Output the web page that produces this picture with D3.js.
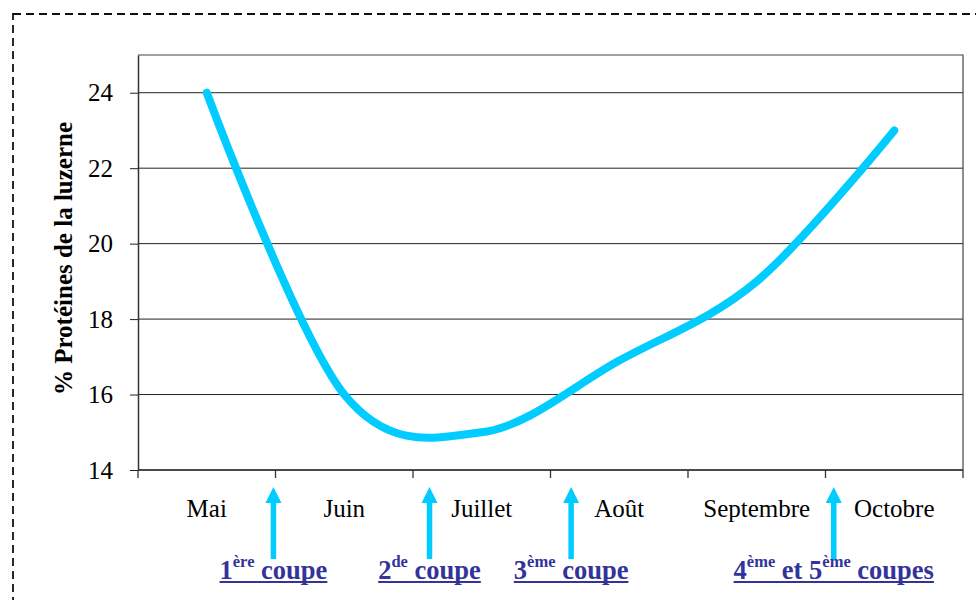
<!DOCTYPE html>
<html>
<head>
<meta charset="utf-8">
<script src="https://cdn.jsdelivr.net/npm/d3@7"></script>
<style>
  html, body { margin: 0; padding: 0; background: #fff; }
  svg { display: block; }
  svg text { font-family: "Liberation Serif", "Times New Roman", serif; }
</style>
</head>
<body>
<svg id="chart" width="976" height="600"></svg>
<script>
// Teneur en protéines de la luzerne selon le mois
const months = ["Mai", "Juin", "Juillet", "Août", "Septembre", "Octobre"];
const proteins = [24, 16, 15, 16.9, 19, 23];
const yTicks = [14, 16, 18, 20, 22, 24];
const yTitle = "% Protéines de la luzerne";

// Dates des coupes, en position mensuelle (0 = milieu de mai)
const cutPositions = [0.485, 1.62, 2.65, 4.56];
const cutLabels = [
  [["1", false], ["ère", true], [" coupe", false]],
  [["2", false], ["de", true], [" coupe", false]],
  [["3", false], ["ème", true], [" coupe", false]],
  [["4", false], ["ème", true], [" et 5", false], ["ème", true], [" coupes", false]]
];

const svg = d3.select("#chart");
const W = 976, H = 600;
const plot = { left: 138, right: 963, top: 55, bottom: 470 };

// Cadre pointillé autour de la figure
svg.append("rect")
  .attr("x", 13).attr("y", 14)
  .attr("width", W).attr("height", H)
  .attr("fill", "none")
  .attr("stroke", "#111")
  .attr("stroke-width", 1.8)
  .attr("stroke-dasharray", "8,5");

const x = d3.scaleBand().domain(months).range([plot.left, plot.right]).padding(0);
const y = d3.scaleLinear().domain([14, 25]).range([plot.bottom, plot.top]);
const xCenter = m => x(m) + x.bandwidth() / 2;
const xPos = d3.scaleLinear().domain([0, months.length - 1])
  .range([xCenter(months[0]), xCenter(months[months.length - 1])]);

// Quadrillage horizontal
svg.append("g").selectAll("line")
  .data(yTicks)
  .join("line")
  .attr("x1", plot.left).attr("x2", plot.right)
  .attr("y1", d => y(d)).attr("y2", d => y(d))
  .attr("stroke", "#222").attr("stroke-width", 1);

// Bordure haute et droite de la zone de tracé
svg.append("path")
  .attr("d", `M${plot.left},${y(25)}H${plot.right}V${plot.bottom}`)
  .attr("fill", "none").attr("stroke", "#444").attr("stroke-width", 1.2);

// Axe vertical
const yAxis = d3.axisLeft(y).tickValues(yTicks).tickSize(8).tickPadding(17).tickSizeOuter(0);
const gy = svg.append("g").attr("transform", `translate(${plot.left},0)`).call(yAxis);
gy.attr("font-family", null);
gy.select(".domain").attr("stroke", "#333").attr("stroke-width", 1.5);
gy.selectAll(".tick line").attr("stroke", "#222");
gy.selectAll(".tick text")
  .attr("font-size", 25).attr("fill", "#000");

// Axe horizontal : ligne et graduations entre les mois
svg.append("line")
  .attr("x1", plot.left).attr("x2", plot.right)
  .attr("y1", plot.bottom).attr("y2", plot.bottom)
  .attr("stroke", "#333").attr("stroke-width", 1.5);
const boundaries = months.map(m => x(m)).concat([plot.right]);
svg.append("g").selectAll("line")
  .data(boundaries)
  .join("line")
  .attr("x1", d => d).attr("x2", d => d)
  .attr("y1", plot.bottom).attr("y2", plot.bottom + 8)
  .attr("stroke", "#333").attr("stroke-width", 1.3);

svg.append("g").selectAll("text")
  .data(months)
  .join("text")
  .attr("x", d => xCenter(d))
  .attr("y", 517)
  .attr("text-anchor", "middle")
  .attr("font-size", 25)
  .attr("fill", "#000")
  .text(d => d);

// Titre de l'axe vertical
svg.append("text")
  .attr("transform", `translate(72,${(plot.top + plot.bottom) / 2 - 4}) rotate(-90)`)
  .attr("text-anchor", "middle")
  .attr("font-size", 25)
  .attr("font-weight", "bold")
  .attr("fill", "#000")
  .text(yTitle);

// Courbe lissée des protéines
const line = d3.line()
  .x((d, i) => xCenter(months[i]))
  .y(d => y(d))
  .curve(d3.curveCardinal.tension(0));
svg.append("path")
  .datum(proteins)
  .attr("d", line)
  .attr("fill", "none")
  .attr("stroke", "#00CCFF")
  .attr("stroke-width", 8)
  .attr("stroke-linecap", "round")
  .attr("stroke-linejoin", "round");

// Flèches des coupes
const arrowTop = 487, arrowBottom = 559, headH = 16, headW = 16, shaftW = 5.5;
svg.append("g").selectAll("path")
  .data(cutPositions)
  .join("path")
  .attr("d", p => {
    const cx = xPos(p);
    return `M${cx},${arrowTop}L${cx + headW / 2},${arrowTop + headH}H${cx + shaftW / 2}` +
      `V${arrowBottom}H${cx - shaftW / 2}V${arrowTop + headH}H${cx - headW / 2}Z`;
  })
  .attr("fill", "#00CCFF");

// Libellés des coupes, soulignés, avec exposants
const labelColor = "#333399";
cutLabels.forEach((parts, i) => {
  const t = svg.append("text")
    .attr("y", 579)
    .attr("font-size", 26.5)
    .attr("font-weight", "bold")
    .attr("fill", labelColor)
    .attr("xml:space", "preserve")
    .style("white-space", "pre");
  let raised = false;
  parts.forEach(([s, sup]) => {
    const ts = t.append("tspan").text(s);
    if (sup && !raised) { ts.attr("font-size", 16.5).attr("dy", -12); raised = true; }
    else if (!sup && raised) { ts.attr("dy", 12); raised = false; }
    else if (sup) { ts.attr("font-size", 16.5); }
  });
  const w = t.node().getComputedTextLength();
  const cx = xPos(cutPositions[i]);
  t.attr("x", cx - w / 2);
  svg.append("line")
    .attr("x1", cx - w / 2).attr("x2", cx + w / 2)
    .attr("y1", 582).attr("y2", 582)
    .attr("stroke", labelColor).attr("stroke-width", 2);
});
</script>
</body>
</html>
